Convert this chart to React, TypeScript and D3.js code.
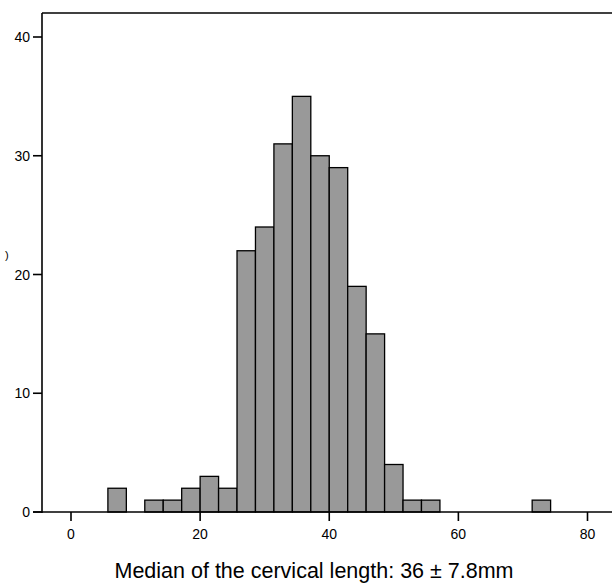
import React, { useRef, useEffect } from 'react';
import * as d3 from 'd3';

// histogram bins are 20/7 wide, aligned on 20
const binStart = 20 - 5 * (20 / 7);
const binWidth = 20 / 7;
const counts = [2, 0, 1, 1, 2, 3, 2, 22, 24, 31, 35, 30, 29, 19, 15, 4, 1, 1, 0, 0, 0, 0, 0, 1];
const xTicks = [0, 20, 40, 60, 80];
const yTicks = [0, 10, 20, 30, 40];
const xLabel = 'Median of the cervical length: 36 \u00b1 7.8mm';

const W = 612;
const H = 583;

const App = () => {
  const svgRef = useRef<SVGSVGElement>(null);

  useEffect(() => {
    const svg = d3.select(svgRef.current);
    svg.selectAll('*').remove();

    const left = 42, top = 13, bottom = 512, right = 616;
    const x = d3.scaleLinear().domain([0, 80]).range([71, 587.5]);
    const y = d3.scaleLinear().domain([0, 40]).range([bottom, 37]);
    const font = 'Helvetica, Arial, "Liberation Sans", sans-serif';

    const bins = counts.map((c, i) => ({
      x0: binStart + i * binWidth,
      x1: binStart + (i + 1) * binWidth,
      c,
    })).filter(d => d.c > 0);

    svg.append('g')
      .selectAll('rect')
      .data(bins)
      .join('rect')
      .attr('x', d => x(d.x0))
      .attr('y', d => y(d.c))
      .attr('width', d => x(d.x1) - x(d.x0))
      .attr('height', d => y(0) - y(d.c))
      .attr('fill', '#999999')
      .attr('stroke', '#000')
      .attr('stroke-width', 1.3);

    // frame: left axis, top border, baseline
    svg.append('line')
      .attr('x1', left).attr('x2', left)
      .attr('y1', top).attr('y2', bottom + 1)
      .attr('stroke', '#000').attr('stroke-width', 1.6);
    svg.append('line')
      .attr('x1', left).attr('x2', right)
      .attr('y1', top).attr('y2', top)
      .attr('stroke', '#000').attr('stroke-width', 1.6);
    svg.append('line')
      .attr('x1', left - 9).attr('x2', right)
      .attr('y1', bottom).attr('y2', bottom)
      .attr('stroke', '#000').attr('stroke-width', 1.6);

    const yg = svg.append('g');
    yg.selectAll('line')
      .data(yTicks)
      .join('line')
      .attr('x1', left - 9).attr('x2', left)
      .attr('y1', d => y(d)).attr('y2', d => y(d))
      .attr('stroke', '#000').attr('stroke-width', 1.6);
    yg.selectAll('text')
      .data(yTicks)
      .join('text')
      .attr('x', left - 12)
      .attr('y', d => y(d))
      .attr('dy', '0.36em')
      .attr('text-anchor', 'end')
      .attr('font-family', font)
      .attr('font-size', 14)
      .attr('fill', '#000')
      .text(d => d);

    const xg = svg.append('g');
    xg.selectAll('line')
      .data(xTicks)
      .join('line')
      .attr('x1', d => x(d)).attr('x2', d => x(d))
      .attr('y1', bottom).attr('y2', bottom + 9)
      .attr('stroke', '#000').attr('stroke-width', 1.6);
    xg.selectAll('text')
      .data(xTicks)
      .join('text')
      .attr('x', d => x(d))
      .attr('y', 539)
      .attr('text-anchor', 'middle')
      .attr('font-family', font)
      .attr('font-size', 14)
      .attr('fill', '#000')
      .text(d => d);

    svg.append('text')
      .attr('x', 314)
      .attr('y', 578)
      .attr('text-anchor', 'middle')
      .attr('font-family', font)
      .attr('font-size', 21.5)
      .attr('fill', '#000')
      .text(xLabel);

    // clipped axis title remnant
    svg.append('text')
      .attr('x', 5)
      .attr('y', 259)
      .attr('font-family', font)
      .attr('font-size', 11)
      .attr('fill', '#000')
      .text(')');
  }, []);

  return (
    <svg ref={svgRef} width={W} height={H}
      style={{ position: 'absolute', left: 0, top: 0, background: '#fff' }} />
  );
};

export default App;
